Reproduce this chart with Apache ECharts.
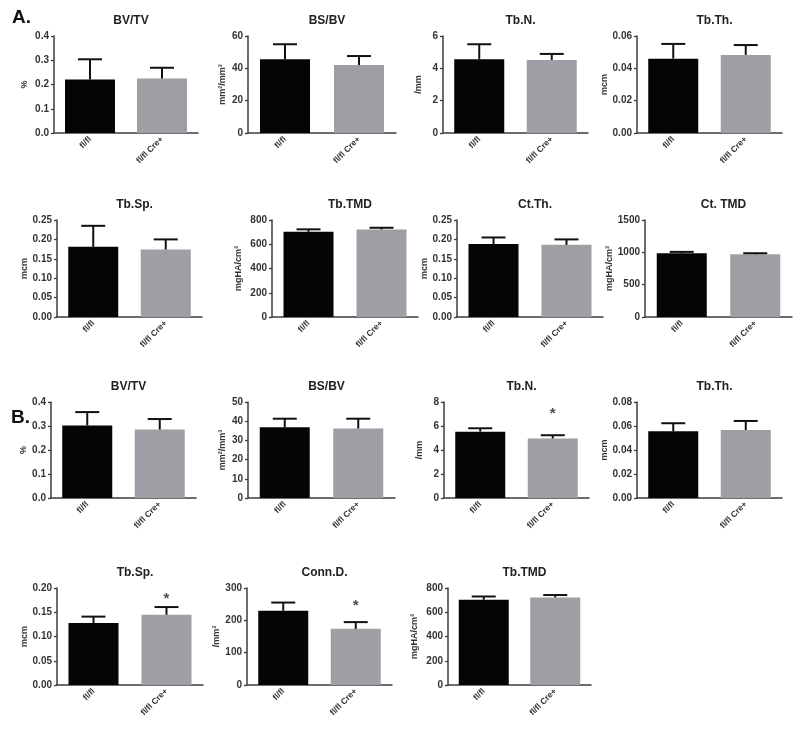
<!DOCTYPE html>
<html>
<head>
<meta charset="utf-8">
<script src="https://cdn.jsdelivr.net/npm/echarts@6/dist/echarts.min.js"></script>
<style>
  html, body { margin: 0; padding: 0; background: #fff; }
  #main { width: 800px; height: 731px; }
</style>
</head>
<body>
<div id="main"></div>
<script>
// groups on every x axis
var groups = ['fl/fl', 'fl/fl Cre+'];

// panels: A (8) then B (7)
var panelTitles = ['BV/TV', 'BS/BV', 'Tb.N.', 'Tb.Th.', 'Tb.Sp.', 'Tb.TMD', 'Ct.Th.', 'Ct. TMD',
                   'BV/TV', 'BS/BV', 'Tb.N.', 'Tb.Th.', 'Tb.Sp.', 'Conn.D.', 'Tb.TMD'];
var unitNames = ['%', 'mm²/mm³', '/mm', 'mcm', 'mcm', 'mgHA/cm³', 'mcm', 'mgHA/cm³',
                 '%', 'mm²/mm³', '/mm', 'mcm', 'mcm', '/mm³', 'mgHA/cm³'];

var meanFlfl = [0.221, 45.6, 4.56, 0.0460, 0.181, 703, 0.188, 986,
                0.302, 36.9, 5.53, 0.0557, 0.1276, 229.6, 703];
var meanCre  = [0.225, 42.1, 4.52, 0.0483, 0.174, 722, 0.186, 970,
                0.285, 36.2, 4.96, 0.0567, 0.1448, 173.7, 722];
var errFlfl  = [0.083, 9.3, 0.93, 0.0091, 0.054, 20, 0.017, 21,
                0.056, 4.4, 0.28, 0.0066, 0.0134, 25.4, 27];
var errCre   = [0.044, 5.5, 0.37, 0.0061, 0.026, 14, 0.014, 16,
                0.044, 5.1, 0.27, 0.0075, 0.0159, 20.8, 20];
// significance stars (value where the * sits), null = none
var starCre  = [null, null, null, null, null, null, null, null,
                null, null, 7.3, null, 0.183, 253, null];

var axisMax  = [0.4, 60, 6, 0.06, 0.25, 800, 0.25, 1500,
                0.4, 50, 8, 0.08, 0.20, 300, 800];
var axisStep = [0.1, 20, 2, 0.02, 0.05, 200, 0.05, 500,
                0.1, 10, 2, 0.02, 0.05, 100, 200];

// layout of each small plot [left, top, width, height, nameGap]
var layout = [
  [54, 36, 144, 97, 25], [248, 36, 148, 97, 21], [443, 36, 145, 97, 20], [637, 36, 145, 97, 27],
  [57, 220, 145, 97, 27], [272, 220, 146, 97, 29], [457, 220, 146, 97, 27], [645, 220, 147, 97, 29],
  [51, 402, 145, 96, 22], [248, 402, 147, 96, 21], [444, 402, 145, 96, 20], [637, 402, 145, 96, 27],
  [57, 588, 146, 97, 26], [247, 588, 145, 97, 21], [448, 588, 143, 97, 29]
];

var FONT = '"Liberation Sans", Arial, sans-serif';
var AXIS = '#3c3c3c';
var myChart = echarts.init(document.getElementById('main'));

var grids = [], xAxes = [], yAxes = [], series = [];
var titles = [
  { text: 'A.', left: 7, top: 3, textStyle: { fontSize: 19, fontWeight: 'bold', color: '#111', fontFamily: FONT } },
  { text: 'B.', left: 6, top: 403, textStyle: { fontSize: 19, fontWeight: 'bold', color: '#111', fontFamily: FONT } }
];

function decimals(step) {
  return Math.max(0, -Math.floor(Math.log10(step) + 1e-9));
}

function errorBar(params, api) {
  var base = api.coord([api.value(0), api.value(1)]);
  var top = api.coord([api.value(0), api.value(2)]);
  var half = 12;
  var style = { stroke: '#111', lineWidth: 2 };
  return {
    type: 'group',
    children: [
      { type: 'line', shape: { x1: base[0], y1: base[1], x2: top[0], y2: top[1] }, style: style },
      { type: 'line', shape: { x1: top[0] - half, y1: top[1], x2: top[0] + half, y2: top[1] }, style: style }
    ]
  };
}

for (var i = 0; i < panelTitles.length; i++) {
  var L = layout[i];
  var dec = decimals(axisStep[i]);
  grids.push({ left: L[0], top: L[1], width: L[2], height: L[3] });
  titles.push({
    text: panelTitles[i], left: L[0] + L[2] / 2, top: L[1] - 26, textAlign: 'center',
    textStyle: { fontSize: 12, fontWeight: 'bold', color: '#222', fontFamily: FONT }
  });
  xAxes.push({
    type: 'category', gridIndex: i, data: groups,
    axisLine: { lineStyle: { color: AXIS, width: 1.5 } },
    axisTick: { alignWithLabel: true, length: 3, lineStyle: { color: AXIS, width: 1.3 } },
    axisLabel: { rotate: 45, interval: 0, margin: 5, fontSize: 8.5, fontWeight: 'bold', color: '#333', fontFamily: FONT }
  });
  yAxes.push({
    type: 'value', gridIndex: i, min: 0, max: axisMax[i], interval: axisStep[i],
    name: unitNames[i], nameLocation: 'middle', nameGap: L[4],
    nameTextStyle: { fontSize: 9, fontWeight: 'bold', color: '#333', fontFamily: FONT },
    splitLine: { show: false },
    axisLine: { show: true, lineStyle: { color: AXIS, width: 1.5 } },
    axisTick: { show: true, length: 3, lineStyle: { color: AXIS, width: 1.3 } },
    axisLabel: {
      margin: 5, fontSize: 10, fontWeight: 'bold', color: '#333', fontFamily: FONT,
      formatter: (function (d) { return function (v) { return v.toFixed(d); }; })(dec)
    }
  });
  series.push({
    type: 'bar', xAxisIndex: i, yAxisIndex: i, barWidth: 50, silent: true,
    data: [
      { value: meanFlfl[i], itemStyle: { color: '#050505' } },
      { value: meanCre[i], itemStyle: { color: '#9e9ea4' } }
    ]
  });
  series.push({
    type: 'custom', xAxisIndex: i, yAxisIndex: i, z: 5, silent: true,
    renderItem: errorBar,
    data: [[0, meanFlfl[i], meanFlfl[i] + errFlfl[i]], [1, meanCre[i], meanCre[i] + errCre[i]]]
  });
  if (starCre[i] != null) {
    series.push({
      type: 'scatter', xAxisIndex: i, yAxisIndex: i, symbolSize: 0, silent: true,
      data: [[1, starCre[i]]],
      label: { show: true, position: 'inside', formatter: '*', offset: [0, 3],
               fontSize: 15, fontWeight: 'bold', color: '#222', fontFamily: FONT }
    });
  }
}

option = {
  backgroundColor: '#fff',
  animation: false,
  title: titles,
  grid: grids,
  xAxis: xAxes,
  yAxis: yAxes,
  series: series
};
myChart.setOption(option);
</script>
</body>
</html>
